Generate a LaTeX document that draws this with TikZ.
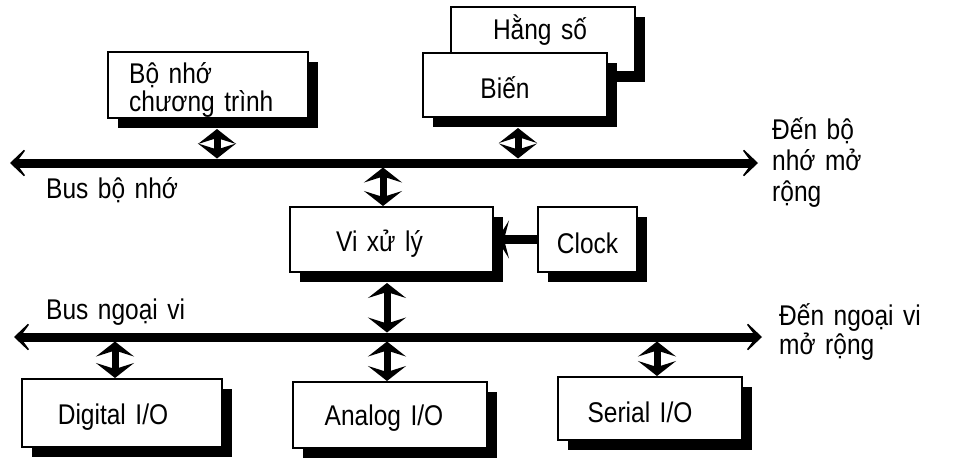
\documentclass[tikz,border=0pt]{standalone}
\usepackage{fontspec}
\setmainfont{Liberation Sans}[FakeStretch=0.86,WordSpace=1.4]
\usetikzlibrary{arrows.meta,shadows}
\tikzset{
  box/.style={draw, line width=2pt, fill=white, inner sep=0pt,
    drop shadow={shadow xshift=10pt, shadow yshift=-10pt, fill=black, opacity=1}},
  bus/.style={line width=9pt,
    arrows={Stealth[length=20pt,width=38pt,inset=14pt]-Stealth[length=20pt,width=38pt,inset=14pt]}},
  dbl/.style={line width=7pt,
    arrows={Stealth[length=15pt,width=38pt,inset=6pt]-Stealth[length=15pt,width=38pt,inset=6pt]}},
  lbl/.style={inner sep=0pt, align=left},
}
\begin{document}
\begin{tikzpicture}[x=1pt,y=-1pt,font=\fontsize{28.5}{30}\selectfont]
\path[use as bounding box] (0,0) rectangle (960,459);

% memory boxes
\node[box, minimum width=184pt, minimum height=65pt] (hang) at (543,39.5) {};
\node (hangt) at ([xshift=-3pt,yshift=-24pt]hang.north) {Hằng số};
\node[box, minimum width=184pt, minimum height=64pt] (bien) at (515,85) {};
\node (bient) at ([xshift=-10pt,yshift=-3pt]bien.center) {Biến};
\node[box, minimum width=200pt, minimum height=66pt] (prog) at (208,85) {};
\node[lbl, anchor=west, font=\fontsize{28.5}{28}\selectfont] (progt) at (129,90) {Bộ nhớ\\chương trình};

% processor and clock
\node[box, minimum width=203pt, minimum height=65pt] (vi) at (391.5,239.5) {};
\node (vit) at ([xshift=-12pt,yshift=-4pt]vi.center) {Vi xử lý};
\node[box, minimum width=99pt, minimum height=65pt] (clock) at (587.5,239.5) {};
\node (clockt) at ([yshift=-4pt]clock.center) {Clock};

% I/O boxes
\node[box, minimum width=200pt, minimum height=68pt] (dig) at (122,413) {};
\node (digt) at ([xshift=-9pt,yshift=-4pt]dig.center) {Digital I/O};
\node[box, minimum width=194pt, minimum height=66pt] (ana) at (390,415) {};
\node (anat) at ([xshift=-6pt,yshift=-3pt]ana.center) {Analog I/O};
\node[box, minimum width=184pt, minimum height=63pt] (ser) at (650,408.5) {};
\node (sert) at ([xshift=-10pt,yshift=-4pt]ser.center) {Serial I/O};

% buses
\coordinate (mL) at (10,163);
\coordinate (mR) at (758,163);
\coordinate (pL) at (14,337);
\coordinate (pR) at (762,337);
\draw[bus] (mL) -- (mR);
\draw[bus] (pL) -- (pR);

% bus labels
\node[lbl, anchor=west] (lmb) at (46,190) {Bus bộ nhớ};
\node[lbl, anchor=west] (lpb) at (46,312) {Bus ngoại vi};
\node[lbl, anchor=west, font=\fontsize{28.5}{31}\selectfont] (lmr) at (772,162) {Đến bộ\\nhớ mở\\rộng};
\node[lbl, anchor=west, font=\fontsize{28.5}{27}\selectfont] (lpr) at (779,332) {Đến ngoại vi\\mở rộng};

% connectors
\coordinate (a1) at ([xshift=9pt,yshift=-10pt]prog.south);
\draw[dbl, shorten >=4.5pt] (a1) -- (a1 |- mL);
\coordinate (a2) at ([xshift=3pt,yshift=-10pt]bien.south);
\draw[dbl, shorten >=4.5pt] (a2) -- (a2 |- mL);
\coordinate (a3) at ([xshift=-8.5pt]vi.north);
\draw[dbl, shorten <=4.5pt] (a3 |- mL) -- (a3);
\coordinate (a4) at ([xshift=-4.5pt,yshift=-10pt]vi.south);
\draw[dbl, shorten >=4.5pt] (a4) -- (a4 |- pL);
\coordinate (a5) at ([xshift=-7pt]dig.north);
\draw[dbl, shorten <=4.5pt] (a5 |- pL) -- (a5);
\coordinate (a6) at ([xshift=-3pt]ana.north);
\draw[dbl, shorten <=4.5pt] (a6 |- pL) -- (a6);
\coordinate (a7) at ([xshift=7pt]ser.north);
\draw[dbl, shorten <=4.5pt] (a7 |- pL) -- (a7);

\coordinate (vr) at ([xshift=3pt]vi.east);
\draw[line width=9pt, -{Stealth[length=12pt,width=38pt,inset=5pt]}] (clock.west) -- (vr);
\end{tikzpicture}
\end{document}
